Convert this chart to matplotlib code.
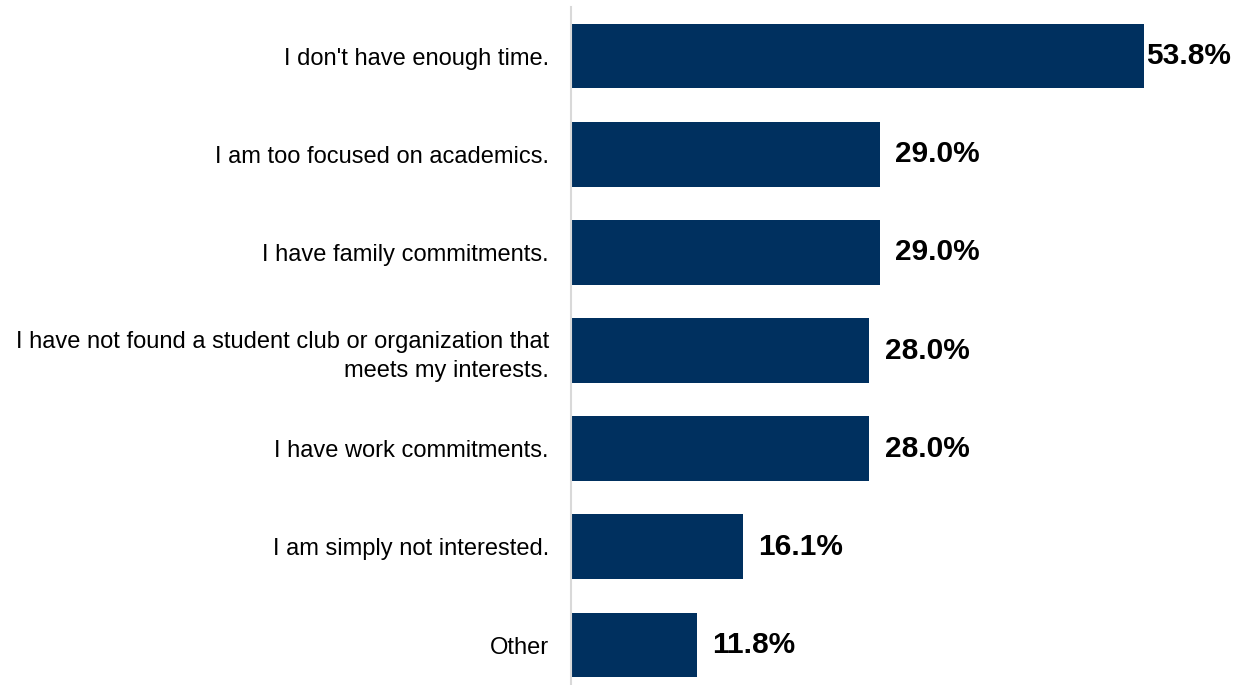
import matplotlib
matplotlib.use("Agg")
import matplotlib.pyplot as plt

plt.rcParams['font.family'] = ['Liberation Sans', 'DejaVu Sans']

categories = [
    "I don't have enough time.",
    "I am too focused on academics.",
    "I have family commitments.",
    "I have not found a student club or organization that\nmeets my interests.",
    "I have work commitments.",
    "I am simply not interested.",
    "Other",
]
values = [53.8, 29.0, 29.0, 28.0, 28.0, 16.1, 11.8]

W, H = 1240, 685
fig = plt.figure(figsize=(W / 100, H / 100), dpi=100)
ax = fig.add_axes([571 / W, 0, 1 - 571 / W, (H - 7) / H])

ypos = list(range(len(categories)))
ax.barh(ypos, values, height=0.66, color='#00305F', edgecolor='none')

ax.set_xlim(0, 62.8)
ax.set_ylim(6.407, -0.5)

ax.set_yticks(ypos)
ax.set_yticklabels(categories, fontsize=17, color='#000000', ha='right',
                   linespacing=1.38)
ax.tick_params(axis='y', length=0, pad=16)
ax.set_xticks([])

for side in ('top', 'right', 'bottom'):
    ax.spines[side].set_visible(False)
ax.spines['left'].set_color('#d9d9d9')
ax.spines['left'].set_linewidth(1.5)

vmax = max(values)
for y, v in zip(ypos, values):
    off = 1.5 if v == vmax else 11
    ax.annotate(f"{v:.1f}%", xy=(v, y), xytext=(off, 0), textcoords='offset points',
                ha='left', va='center', fontsize=21.5, fontweight='bold', color='#000000')

fig.savefig("out.png", dpi=100)
